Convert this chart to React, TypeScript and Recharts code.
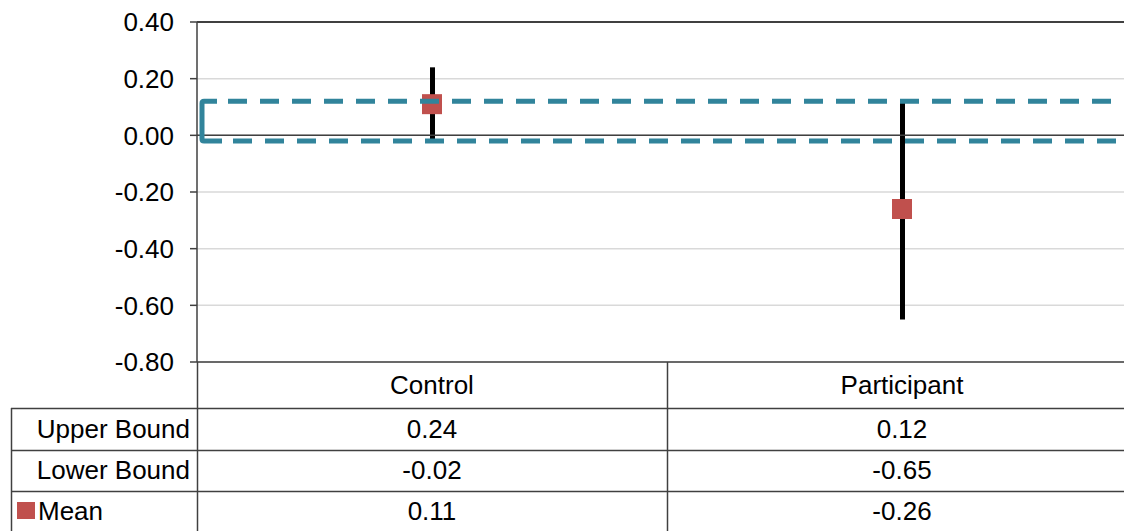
import {
  ComposedChart,
  Bar,
  Scatter,
  XAxis,
  YAxis,
  CartesianGrid,
  ReferenceLine,
  ReferenceArea,
} from 'recharts';

const categories = ['Control', 'Participant'];
const upperBound = [0.24, 0.12];
const lowerBound = [-0.02, -0.65];
const means = [0.11, -0.26];
const yTicks = [0.4, 0.2, 0, -0.2, -0.4, -0.6, -0.8];
const rowLabels = ['Upper Bound', 'Lower Bound', 'Mean'];
// overlap band drawn as the dashed box
const bandTop = 0.12;
const bandBottom = -0.02;

const TEAL = '#31849B';
const RED = '#C0504D';
const LINE = '#404040';
const FONT = '"Liberation Sans", Arial, sans-serif';
const FS = 26;

const W = 1137;
const H = 531;
const PLOT_LEFT = 197;
const PLOT_BOTTOM = 362;
const ROW_TOP = [408, 450, 491];
const ROW_MID = [429, 470, 511];
const COL_W = (W - PLOT_LEFT) / categories.length;

const data = categories.map((name, i) => ({
  name,
  range: [lowerBound[i], upperBound[i]],
  mean: means[i],
}));

function TableColumn(props: any) {
  const { x, y, payload } = props;
  const i = categories.indexOf(payload.value);
  const vals = [upperBound[i], lowerBound[i], means[i]];
  return (
    <g>
      <text x={x} y={y + 23} textAnchor="middle" dominantBaseline="central" fontSize={FS} fill="#000">
        {payload.value}
      </text>
      {vals.map((v, k) => (
        <text
          key={k}
          x={x}
          y={ROW_MID[k]}
          textAnchor="middle"
          dominantBaseline="central"
          fontSize={FS}
          fill="#000"
        >
          {v.toFixed(2)}
        </text>
      ))}
    </g>
  );
}

function DashedBand(p: any) {
  const left = p.x + 5;
  const top = p.y;
  const bottom = p.y + p.height;
  const right = p.x + p.width;
  const stroke = { stroke: TEAL, strokeWidth: 5, fill: 'none' };
  return (
    <g>
      <path
        d={`M${left + 15},${top} L${left + 2},${top} Q${left},${top} ${left},${top + 2} L${left},${bottom - 2} Q${left},${bottom} ${left + 2},${bottom} L${left + 20},${bottom}`}
        {...stroke}
      />
      <line x1={left + 26} x2={right} y1={top} y2={top} {...stroke} strokeDasharray="19 13" />
      <line x1={left + 31} x2={right} y1={bottom} y2={bottom} {...stroke} strokeDasharray="19 13" />
    </g>
  );
}

export default function App() {
  return (
    <div
      style={{
        position: 'absolute',
        left: 0,
        top: 0,
        width: 1124,
        height: 531,
        overflow: 'hidden',
        background: '#fff',
        fontFamily: FONT,
      }}
    >
      <ComposedChart
        width={W}
        height={H}
        data={data}
        margin={{ top: 22, right: 0, bottom: 0, left: 0 }}
        style={{ fontFamily: FONT }}
      >
        <CartesianGrid horizontal vertical={false} stroke="#d9d9d9" strokeWidth={1.5} />
        <XAxis
          dataKey="name"
          type="category"
          height={H - PLOT_BOTTOM}
          axisLine={false}
          tickLine={false}
          tickSize={0}
          tickMargin={0}
          interval={0}
          tick={(p: any) => <TableColumn {...p} />}
        />
        <YAxis
          type="number"
          domain={[-0.8, 0.4]}
          ticks={yTicks}
          allowDataOverflow
          width={PLOT_LEFT}
          tickSize={7}
          tickMargin={16}
          tickFormatter={(v: number) => v.toFixed(2)}
          axisLine={{ stroke: LINE, strokeWidth: 1.5 }}
          tickLine={{ stroke: LINE, strokeWidth: 1.5 }}
          tick={{ fill: '#000', fontSize: FS }}
        />
        <ReferenceLine y={0.4} stroke={LINE} strokeWidth={2} />
        <ReferenceLine y={0} stroke={LINE} strokeWidth={1.5} />
        <ReferenceLine y={-0.8} stroke={LINE} strokeWidth={1.5} />
        <Bar dataKey="range" barSize={5} fill="#000" isAnimationActive={false} />
        <Scatter
          dataKey="mean"
          fill={RED}
          isAnimationActive={false}
          shape={(p: any) => (
            <rect x={p.cx - 10} y={p.cy - 10} width={20} height={20} fill={RED} />
          )}
        />
        <ReferenceArea
          y1={bandBottom}
          y2={bandTop}
          ifOverflow="visible"
          zIndex={2000}
          shape={(p: any) => <DashedBand {...p} />}
        />
      </ComposedChart>
      <svg
        width={1124}
        height={531}
        style={{ position: 'absolute', left: 0, top: 0, pointerEvents: 'none', fontFamily: FONT }}
      >
        <line x1={PLOT_LEFT + 0.5} x2={PLOT_LEFT + 0.5} y1={PLOT_BOTTOM} y2={H} stroke={LINE} strokeWidth={1.5} />
        <line
          x1={PLOT_LEFT + COL_W + 0.5}
          x2={PLOT_LEFT + COL_W + 0.5}
          y1={PLOT_BOTTOM}
          y2={H}
          stroke={LINE}
          strokeWidth={1.5}
        />
        <line x1={11.5} x2={11.5} y1={ROW_TOP[0]} y2={H} stroke={LINE} strokeWidth={1.5} />
        {ROW_TOP.map((y) => (
          <line key={y} x1={11} x2={1124} y1={y + 0.5} y2={y + 0.5} stroke={LINE} strokeWidth={1.5} />
        ))}
        {rowLabels.map((label, k) =>
          label === 'Mean' ? (
            <g key={label}>
              <rect x={17} y={502} width={18} height={17} fill={RED} />
              <text x={38} y={ROW_MID[k]} dominantBaseline="central" fontSize={FS} fill="#000">
                {label}
              </text>
            </g>
          ) : (
            <text
              key={label}
              x={190}
              y={ROW_MID[k]}
              textAnchor="end"
              dominantBaseline="central"
              fontSize={FS}
              fill="#000"
            >
              {label}
            </text>
          )
        )}
      </svg>
    </div>
  );
}
